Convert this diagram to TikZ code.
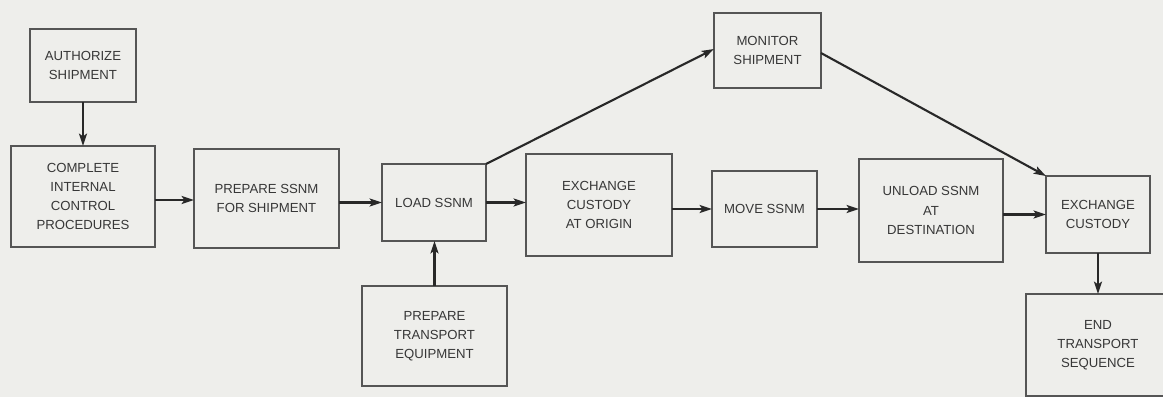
\documentclass[tikz,border=0pt]{standalone}
\usepackage{fontspec}
\setmainfont{Liberation Sans}
\usetikzlibrary{arrows.meta}
\definecolor{paper}{RGB}{238,238,235}
\definecolor{ink}{RGB}{40,40,40}
\definecolor{edge}{RGB}{85,85,85}
\definecolor{txt}{RGB}{55,55,55}
\tikzset{
  box/.style={draw=edge, line width=0.7pt, rectangle, inner sep=0pt, outer sep=0pt,
    align=center, text=txt, font=\fontsize{7.5}{10.9}\selectfont},
  flow/.style={draw=ink, line width=1.5pt, -{Stealth[length=7pt,width=4.5pt,inset=1.5pt]}},
  slant/.style={flow, line width=1.2pt}
}
\begin{document}
\begin{tikzpicture}[x=0.02cm, y=-0.02cm]
  \fill[paper] (0,0) rectangle (1163,397);
  \useasboundingbox (0,0) rectangle (1163,397);
  \clip (0,0) rectangle (1163,397);

  % process blocks
  \node[box, minimum width=2.12cm, minimum height=1.46cm] (auth)    at (83,65.5)    {AUTHORIZE\\SHIPMENT};
  \node[box, minimum width=2.88cm, minimum height=2.02cm] (ctrl)    at (83,196.5)   {COMPLETE\\INTERNAL\\CONTROL\\PROCEDURES};
  \node[box, minimum width=2.90cm, minimum height=1.98cm] (prep)    at (266.5,198.5){PREPARE SSNM\\FOR SHIPMENT};
  \node[box, minimum width=2.08cm, minimum height=1.54cm] (load)    at (434,202.5)  {LOAD SSNM};
  \node[box, minimum width=2.90cm, minimum height=2.00cm] (equip)   at (434.5,336)  {PREPARE\\TRANSPORT\\EQUIPMENT};
  \node[box, minimum width=2.92cm, minimum height=2.04cm] (origin)  at (599,205)    {EXCHANGE\\CUSTODY\\AT ORIGIN};
  \node[box, minimum width=2.14cm, minimum height=1.50cm] (monitor) at (767.5,50.5) {MONITOR\\SHIPMENT};
  \node[box, minimum width=2.10cm, minimum height=1.52cm] (move)    at (764.5,209)  {MOVE SSNM};
  \node[box, minimum width=2.88cm, minimum height=2.06cm] (unload)  at (931,210.5)  {UNLOAD SSNM\\AT\\DESTINATION};
  \node[box, minimum width=2.08cm, minimum height=1.54cm] (custody) at (1098,214.5) {EXCHANGE\\CUSTODY};
  \node[box, minimum width=2.88cm, minimum height=2.04cm] (finish)  at (1098,345)   {END\\TRANSPORT\\SEQUENCE};

  % main sequence
  \draw[flow] (auth.south) -- (auth.south |- ctrl.north);
  \draw[flow] ([yshift=-0.07cm]ctrl.east) -- ([yshift=-0.07cm]ctrl.east -| prep.west);
  \draw[flow] (prep.east |- load) -- (load.west);
  \draw[flow] (load.east) -- (load.east -| origin.west);
  \draw[flow] (origin.east |- move) -- (move.west);
  \draw[flow] (move.east) -- (move.east -| unload.west);
  \draw[flow] (unload.east |- custody) -- (custody.west);
  \draw[flow] (equip.north) -- (equip.north |- load.south);
  \draw[flow] (custody.south) -- (custody.south |- finish.north);

  % monitoring branch
  \draw[slant] (load.north east) -- ([yshift=0.03cm]monitor.west);
  \draw[slant] ([yshift=-0.05cm]monitor.east) -- (custody.north west);
\end{tikzpicture}
\end{document}
